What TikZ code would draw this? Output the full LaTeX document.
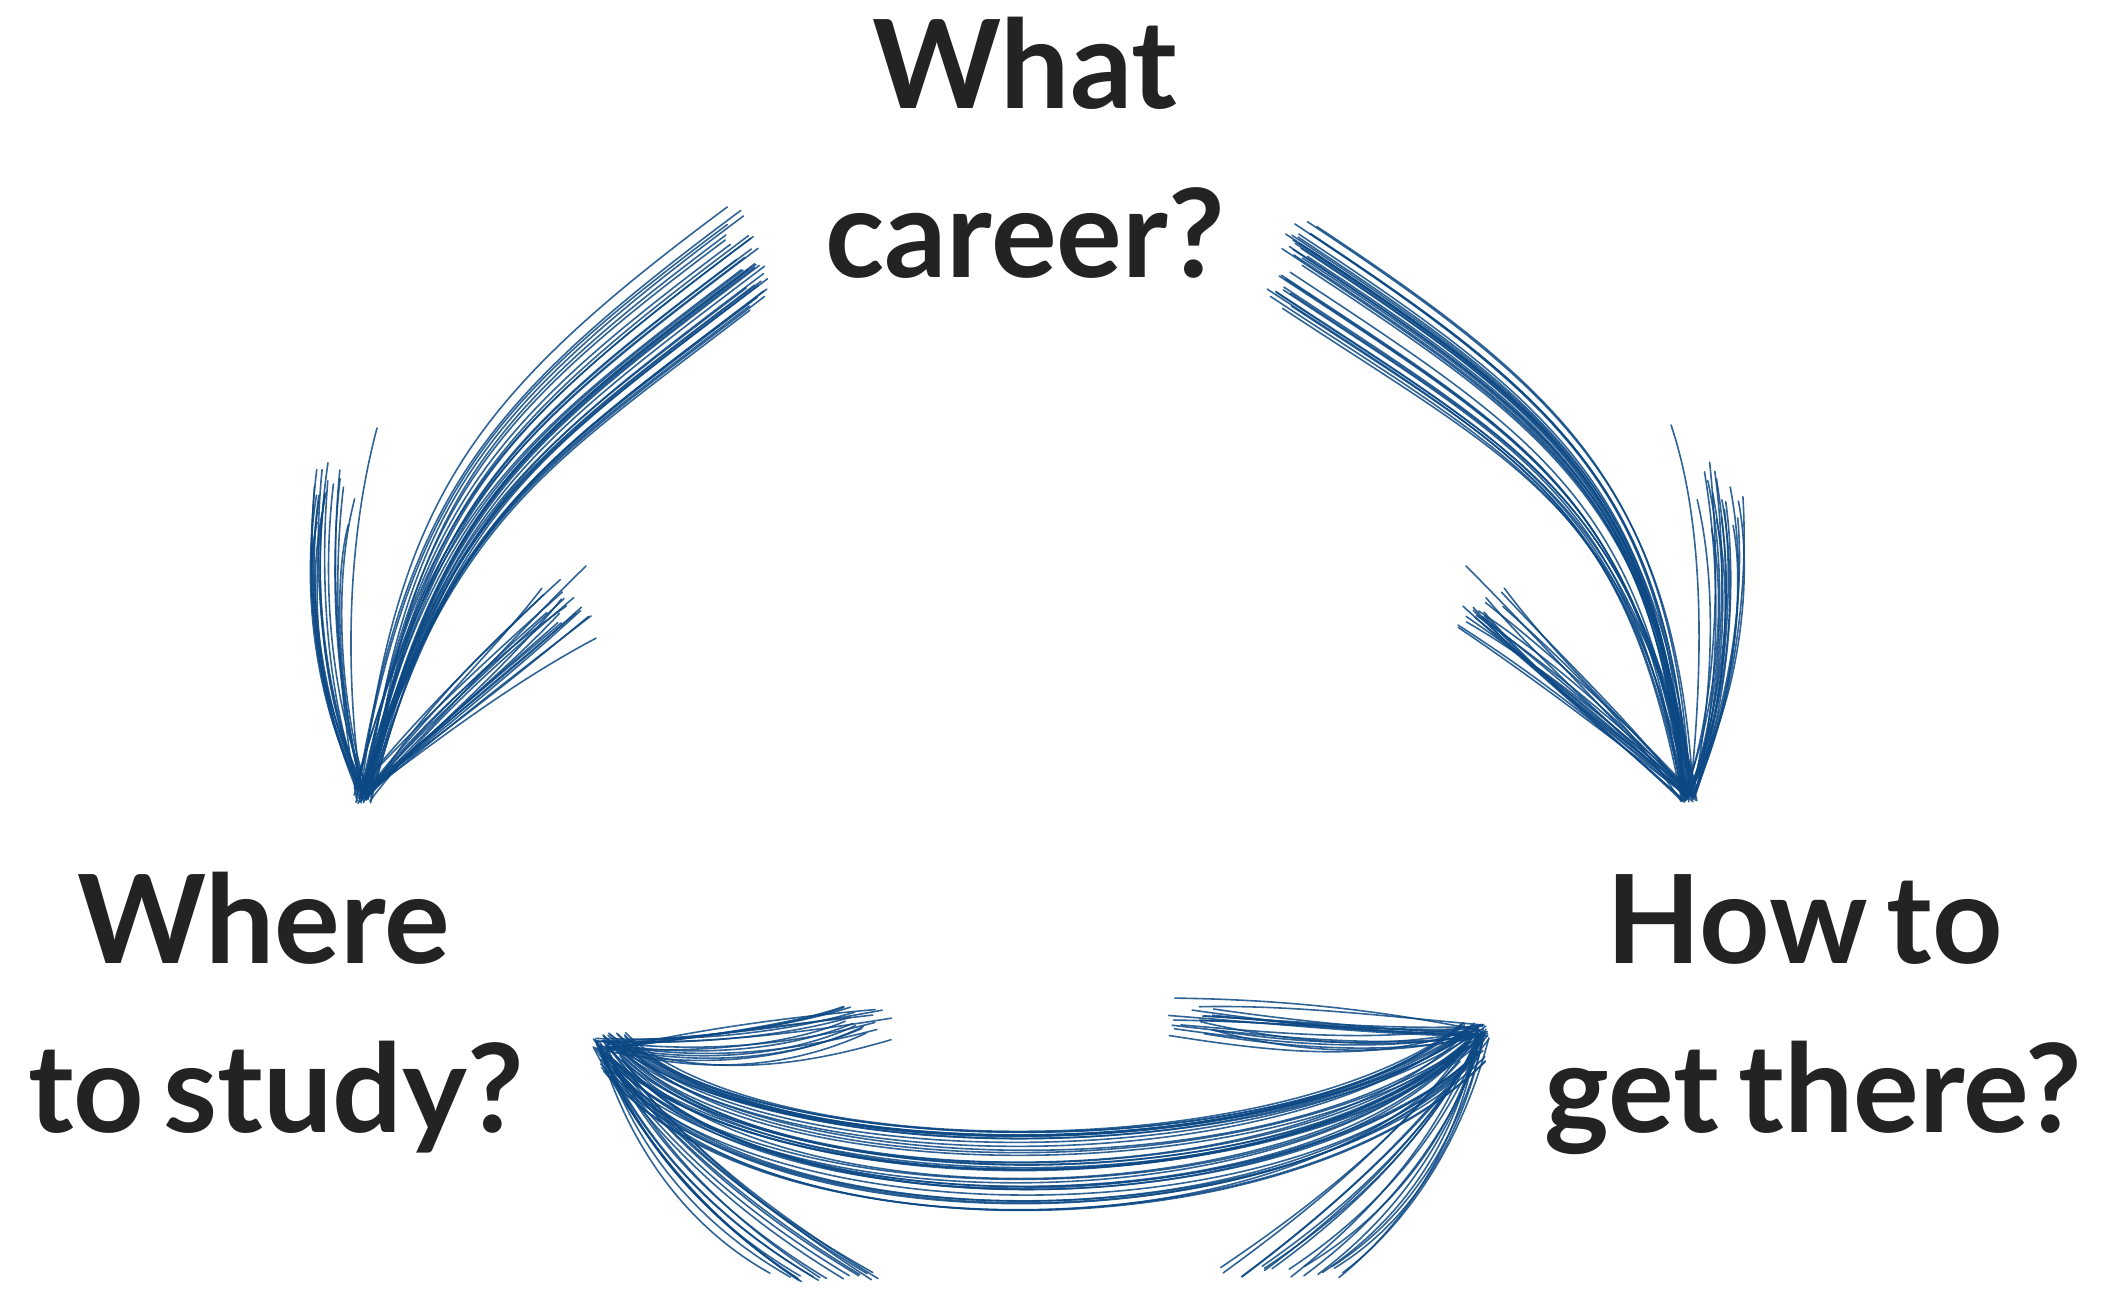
\documentclass[tikz,border=0pt]{standalone}
\usepackage{fontspec}
\setmainfont{Lato}
\usetikzlibrary{calc}
\definecolor{ink}{RGB}{12,72,132}
\definecolor{txt}{RGB}{35,35,35}
\newcommand{\lblfont}{\fontsize{123}{169}\selectfont\bfseries\spaceskip 19pt\relax}
\begin{document}
\begin{tikzpicture}[x=1pt,y=-1pt,
  lbl/.style={font=\lblfont, text=txt, inner sep=0pt, anchor=base},
  sk/.style={draw=ink, line width=1.6pt, line cap=round, opacity=0.85}]
\pgfmathsetseed{11}
\useasboundingbox (0,0) rectangle (2113,1296);
% labels
\node[lbl] (career) at (1025,108) {\begin{tabular}[t]{@{}c@{}}What\\career?\end{tabular}};
\node[lbl] (study) at (270,963) {\begin{tabular}[t]{@{}c@{}}Where\hspace*{12.5pt}\\\hspace*{12.5pt}to study?\end{tabular}};
\node[lbl] (route) at (1809,963) {\begin{tabular}[t]{@{}c@{}}How to\hspace*{9pt}\\\hspace*{9pt}get there?\end{tabular}};
% ---------- top-left arrow ----------
\coordinate (tlS) at (746,254);
\coordinate (tlC1) at (504,436);
\coordinate (tlC2) at (430,507);
\coordinate (tlE) at (363,795);
\foreach \i in {1,...,34}{
  \pgfmathsetmacro\o{rand}
  \pgfmathsetmacro\a{rand}
  \draw[sk] ($(tlS)+({\o*18+\a*14},{\o*48-\a*10})$) .. controls ($(tlC1)+({\o*32},{\o*40})$) and ($(tlC2)+({\o*30},{\o*10})$) .. ($(tlE)+({rand*9},{rand*9})$);
}
\coordinate (tlL0) at (362,795);
\coordinate (tlL1) at (335,720);
\coordinate (tlL2) at (318,600);
\coordinate (tlL3) at (335,495);
\foreach \i in {1,...,18}{
  \pgfmathsetmacro\o{rand}
  \draw[sk] ($(tlL0)+({rand*7},{rand*7})$) .. controls ($(tlL1)+({\o*14},0)$) and ($(tlL2)+({\o*20},{rand*12})$) .. ($(tlL3)+({\o*24+rand*8},{rand*35})$);
}
\draw[sk] (tlL0) .. controls (348,700) and (342,560) .. (377,428);
\coordinate (tlR0) at (365,795);
\coordinate (tlR1) at (430,725);
\coordinate (tlR2) at (500,665);
\coordinate (tlR3) at (566,608);
\foreach \i in {1,...,18}{
  \pgfmathsetmacro\o{rand}
  \draw[sk] ($(tlR0)+({rand*7},{rand*7})$) .. controls ($(tlR1)+({\o*12},{\o*12})$) and ($(tlR2)+({\o*16},{\o*16})$) .. ($(tlR3)+({\o*18+rand*14},{\o*18-rand*14})$);
}
\draw[sk] (tlR0) .. controls (440,720) and (510,640) .. (586,566);
% ---------- top-right arrow ----------
\coordinate (trS) at (1292,262);
\coordinate (trC1) at (1542,427);
\coordinate (trC2) at (1648,498);
\coordinate (trE) at (1690,795);
\foreach \i in {1,...,34}{
  \pgfmathsetmacro\o{rand}
  \pgfmathsetmacro\a{rand}
  \draw[sk] ($(trS)+({-\o*14+\a*14},{\o*46+\a*9})$) .. controls ($(trC1)+({-\o*26},{\o*38})$) and ($(trC2)+({-\o*30},{\o*5})$) .. ($(trE)+({rand*9},{rand*9})$);
}
\coordinate (trR0) at (1690,795);
\coordinate (trR1) at (1722,720);
\coordinate (trR2) at (1738,600);
\coordinate (trR3) at (1722,495);
\foreach \i in {1,...,18}{
  \pgfmathsetmacro\o{rand}
  \draw[sk] ($(trR0)+({rand*7},{rand*7})$) .. controls ($(trR1)+({\o*14},0)$) and ($(trR2)+({\o*20},{rand*12})$) .. ($(trR3)+({\o*24+rand*8},{rand*35})$);
}
\draw[sk] (trR0) .. controls (1700,700) and (1710,540) .. (1671,425);
\coordinate (trL0) at (1688,795);
\coordinate (trL1) at (1620,725);
\coordinate (trL2) at (1550,665);
\coordinate (trL3) at (1484,604);
\foreach \i in {1,...,18}{
  \pgfmathsetmacro\o{rand}
  \draw[sk] ($(trL0)+({rand*7},{rand*7})$) .. controls ($(trL1)+({\o*12},{-\o*12})$) and ($(trL2)+({\o*16},{-\o*16})$) .. ($(trL3)+({\o*18+rand*14},{-\o*18+rand*14})$);
}
\draw[sk] (trL0) .. controls (1610,720) and (1540,640) .. (1466,566);
% ---------- bottom double arrow ----------
\coordinate (bS) at (612,1052);
\coordinate (bC1) at (760,1212);
\coordinate (bC2) at (1290,1212);
\coordinate (bE) at (1472,1042);
\foreach \i in {1,...,40}{
  \pgfmathsetmacro\o{rand}
  \draw[sk] ($(bS)+({rand*14},{\o*20})$) .. controls ($(bC1)+({rand*12},{\o*48})$) and ($(bC2)+({rand*12},{\o*48})$) .. ($(bE)+({rand*14},{\o*20})$);
}
\coordinate (blU0) at (602,1044);
\coordinate (blU1) at (700,1050);
\coordinate (blU2) at (790,1040);
\coordinate (blU3) at (866,1020);
\foreach \i in {1,...,18}{
  \pgfmathsetmacro\o{rand}
  \draw[sk] ($(blU0)+({rand*7},{rand*7})$) .. controls ($(blU1)+(0,{\o*28})$) and ($(blU2)+(0,{\o*30})$) .. ($(blU3)+({rand*28},{\o*18+rand*6})$);
}
\coordinate (blD0) at (600,1046);
\coordinate (blD1) at (640,1130);
\coordinate (blD2) at (705,1210);
\coordinate (blD3) at (815,1276);
\foreach \i in {1,...,18}{
  \pgfmathsetmacro\o{rand}
  \draw[sk] ($(blD0)+({rand*7},{rand*7})$) .. controls ($(blD1)+({\o*20},{-\o*14})$) and ($(blD2)+({\o*32},{-\o*20})$) .. ($(blD3)+({\o*60+rand*8},{rand*6})$);
}
\coordinate (brU0) at (1482,1031);
\coordinate (brU1) at (1385,1035);
\coordinate (brU2) at (1290,1025);
\coordinate (brU3) at (1195,1016);
\foreach \i in {1,...,18}{
  \pgfmathsetmacro\o{rand}
  \draw[sk] ($(brU0)+({rand*7},{rand*7})$) .. controls ($(brU1)+(0,{\o*28})$) and ($(brU2)+(0,{\o*30})$) .. ($(brU3)+({rand*28},{\o*18+rand*6})$);
}
\coordinate (brD0) at (1482,1033);
\coordinate (brD1) at (1445,1120);
\coordinate (brD2) at (1382,1200);
\coordinate (brD3) at (1280,1272);
\foreach \i in {1,...,18}{
  \pgfmathsetmacro\o{rand}
  \draw[sk] ($(brD0)+({rand*7},{rand*7})$) .. controls ($(brD1)+({\o*20},{\o*14})$) and ($(brD2)+({\o*32},{\o*20})$) .. ($(brD3)+({\o*62+rand*8},{rand*6})$);
}
\end{tikzpicture}
\end{document}
